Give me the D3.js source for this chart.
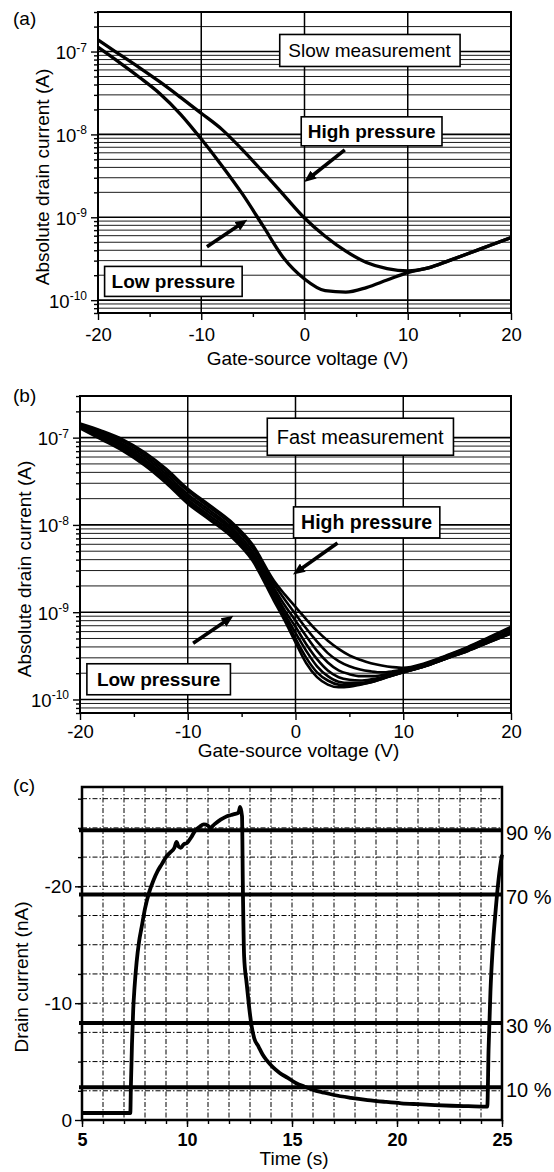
<!DOCTYPE html>
<html>
<head>
<meta charset="utf-8">
<script src="https://cdn.jsdelivr.net/npm/d3@7"></script>
<style>
  body { margin: 0; background: #fff; }
  svg { display: block; }
</style>
</head>
<body>
<svg id="fig" width="554" height="1172"></svg>
<script>
// (a) slow measurement: |Id| (A) against Vgs (V)
var voltsA = [-20, -18, -16, -14, -12, -10, -8, -6, -4, -2, 0, 2, 4, 6, 8, 10, 12, 14, 16, 18, 20];
var slowHigh = [1.38e-7, 9.4e-8, 6.4e-8, 4.3e-8, 2.8e-8, 1.8e-8, 1.15e-8, 6.5e-9, 3.5e-9, 1.85e-9, 9.8e-10,
                5.9e-10, 3.9e-10, 2.85e-10, 2.4e-10, 2.25e-10, 2.45e-10, 3.0e-10, 3.7e-10, 4.6e-10, 5.7e-10];
var slowLow  = [1.13e-7, 7.5e-8, 4.9e-8, 3.1e-8, 1.75e-8, 8.8e-9, 4.2e-9, 1.9e-9, 7.8e-10, 3.2e-10, 1.8e-10,
                1.3e-10, 1.25e-10, 1.42e-10, 1.75e-10, 2.15e-10, 2.45e-10, 3.0e-10, 3.7e-10, 4.6e-10, 5.7e-10];

// (b) fast measurement: seven sweeps, high pressure first
var voltsB = [-20, -18, -16, -14, -12, -10, -8, -6, -4, -2, -1, 0, 1, 2, 3, 4, 5, 6, 7, 8, 9, 10, 12, 14, 16, 18, 20];
var fast1 = [1.45e-7, 1.2e-7, 9.5e-8, 6.8e-8, 4.4e-8, 2.6e-8, 1.7e-8, 1.1e-8, 6.0e-9, 2.3e-9, 1.6e-9, 1.15e-9, 8.3e-10, 6.1e-10,
             4.7e-10, 3.8e-10, 3.2e-10, 2.85e-10, 2.6e-10, 2.45e-10, 2.35e-10, 2.3e-10, 2.6e-10, 3.2e-10, 4.0e-10, 5.2e-10, 6.8e-10];
var fast2 = [1.42e-7, 1.16e-7, 9.0e-8, 6.4e-8, 4.1e-8, 2.45e-8, 1.6e-8, 1.03e-8, 5.5e-9, 2.1e-9, 1.4e-9, 9.5e-10, 6.5e-10, 4.6e-10,
             3.4e-10, 2.75e-10, 2.4e-10, 2.2e-10, 2.1e-10, 2.05e-10, 2.1e-10, 2.2e-10, 2.55e-10, 3.15e-10, 3.95e-10, 5.1e-10, 6.6e-10];
var fast3 = [1.39e-7, 1.11e-7, 8.5e-8, 6.0e-8, 3.8e-8, 2.25e-8, 1.48e-8, 9.5e-9, 5.0e-9, 1.9e-9, 1.2e-9, 8.0e-10, 5.3e-10, 3.6e-10,
             2.65e-10, 2.15e-10, 1.95e-10, 1.85e-10, 1.85e-10, 1.9e-10, 2.0e-10, 2.15e-10, 2.5e-10, 3.05e-10, 3.8e-10, 4.8e-10, 6.2e-10];
var fast4 = [1.36e-7, 1.07e-7, 8.1e-8, 5.6e-8, 3.55e-8, 2.1e-8, 1.38e-8, 8.9e-9, 4.6e-9, 1.75e-9, 1.05e-9, 6.8e-10, 4.3e-10, 2.9e-10,
             2.15e-10, 1.8e-10, 1.68e-10, 1.65e-10, 1.7e-10, 1.8e-10, 1.95e-10, 2.1e-10, 2.45e-10, 3.0e-10, 3.7e-10, 4.7e-10, 6.0e-10];
var fast5 = [1.33e-7, 1.03e-7, 7.7e-8, 5.3e-8, 3.35e-8, 1.95e-8, 1.28e-8, 8.3e-9, 4.3e-9, 1.6e-9, 9.5e-10, 5.8e-10, 3.6e-10, 2.4e-10,
             1.85e-10, 1.6e-10, 1.55e-10, 1.55e-10, 1.62e-10, 1.75e-10, 1.9e-10, 2.05e-10, 2.4e-10, 2.95e-10, 3.65e-10, 4.6e-10, 5.8e-10];
var fast6 = [1.3e-7, 9.9e-8, 7.3e-8, 5.0e-8, 3.15e-8, 1.85e-8, 1.2e-8, 7.8e-9, 4.1e-9, 1.45e-9, 8.8e-10, 5.0e-10, 3.0e-10, 2.05e-10,
             1.65e-10, 1.48e-10, 1.45e-10, 1.5e-10, 1.58e-10, 1.72e-10, 1.88e-10, 2.05e-10, 2.4e-10, 2.95e-10, 3.6e-10, 4.55e-10, 5.7e-10];
var fast7 = [1.28e-7, 9.5e-8, 7.0e-8, 4.8e-8, 3.0e-8, 1.75e-8, 1.15e-8, 7.4e-9, 3.9e-9, 1.35e-9, 8.0e-10, 4.5e-10, 2.6e-10, 1.8e-10,
             1.48e-10, 1.38e-10, 1.4e-10, 1.48e-10, 1.58e-10, 1.72e-10, 1.88e-10, 2.05e-10, 2.4e-10, 2.95e-10, 3.6e-10, 4.55e-10, 5.7e-10];

// (c) drain current (nA) against time (s)
var timeC = [5, 7.3, 7.33, 7.38, 7.44, 7.5, 7.6, 7.72, 7.84, 8.0, 8.2, 8.4, 8.6, 8.8, 9.0, 9.2, 9.4, 9.5, 9.6, 9.7,
             9.85, 10.0, 10.2, 10.4, 10.6, 10.8, 11.0, 11.1, 11.3, 11.6, 11.9, 12.1, 12.3, 12.45, 12.53, 12.62, 12.66,
             12.72, 12.84, 12.95, 13.08, 13.2, 13.4, 13.6, 13.8, 14.1, 14.4, 14.8, 15.2, 15.6, 16.0, 16.5, 17.0,
             17.8, 18.6, 19.4, 20.2, 21.0, 21.8, 22.6, 23.4, 24.27, 24.3, 24.36, 24.45, 24.55, 24.7, 24.85, 25];
var currentC = [-0.6, -0.6, -3, -6.5, -9.5, -11.3, -13.5, -15.3, -16.5, -18.1, -19.5, -20.5, -21.3, -21.9, -22.5, -22.9,
                -23.3, -23.8, -23.4, -23.3, -23.6, -23.7, -24.2, -24.8, -25.1, -25.3, -25.2, -25.0, -25.3, -25.7,
                -26.0, -26.1, -26.2, -26.3, -26.8, -26.0, -20, -14.0, -11.7, -9.8, -8.0, -7.0, -6.3, -5.6, -5.1,
                -4.5, -4.05, -3.6, -3.15, -2.85, -2.58, -2.35, -2.14, -1.9, -1.71, -1.56, -1.43, -1.35, -1.28,
                -1.22, -1.18, -1.14, -1.14, -6, -11, -14.5, -18, -20.8, -22.7];
var levelValues = [-24.8, -19.3, -8.3, -2.8];
var levelLabels = ["90 %", "70 %", "30 %", "10 %"];

var voltTicks = [-20, -10, 0, 10, 20];
var voltMinor = [-15, -5, 5, 15];
var decades = [1e-7, 1e-8, 1e-9, 1e-10];
var decadeLabels = ["-7", "-8", "-9", "-10"];
var timeTicks = [5, 10, 15, 20, 25];
var currentTicks = [-20, -10, 0];

var svg = d3.select("#fig"),
    fontFamily = "'Liberation Sans', Arial, Helvetica, sans-serif";

svg.append("defs").append("marker")
    .attr("id", "head")
    .attr("markerUnits", "userSpaceOnUse")
    .attr("viewBox", "0 0 12 10")
    .attr("refX", 5).attr("refY", 5)
    .attr("markerWidth", 12).attr("markerHeight", 10)
    .attr("orient", "auto")
  .append("path")
    .attr("d", "M0,0L12,5L0,10Z")
    .attr("fill", "#000");

function isDecade(d) {
  var e = Math.log10(d);
  return Math.abs(e - Math.round(e)) < 1e-9;
}

function styleAxis(sel, size) {
  sel.attr("font-size", size).attr("font-family", fontFamily);
  sel.select(".domain").remove();
  sel.selectAll(".tick line").attr("stroke-width", 1.4);
  sel.selectAll(".tick text").attr("fill", "#000");
  return sel;
}

function addText(g, x, y, txt, size, opts) {
  opts = opts || {};
  var t = g.append("text")
    .attr("x", x).attr("y", y)
    .attr("font-family", fontFamily)
    .attr("font-size", size)
    .attr("font-weight", opts.bold ? "bold" : "normal")
    .attr("text-anchor", opts.anchor || "start")
    .text(txt);
  if (opts.rotate) t.attr("transform", "rotate(-90," + x + "," + y + ")");
  return t;
}

function logPanel(p) {
  var x = d3.scaleLinear().domain([-20, 20]).range([p.left, p.right]),
      y = d3.scaleLog().domain([7e-11, 3e-7]).range([p.bottom, p.top]);

  var g = svg.append("g");

  // horizontal grid on every log tick, vertical grid only at the labelled volts
  g.selectAll(".hgrid")
    .data(y.ticks())
    .enter().append("line")
      .attr("class", "hgrid")
      .attr("x1", p.left).attr("x2", p.right)
      .attr("y1", function(d) { return y(d); })
      .attr("y2", function(d) { return y(d); })
      .attr("stroke", "#000")
      .attr("stroke-width", function(d) { return isDecade(d) ? 1.6 : 0.9; });

  g.selectAll(".vgrid")
    .data(voltTicks.slice(1, -1))
    .enter().append("line")
      .attr("class", "vgrid")
      .attr("x1", function(d) { return x(d); })
      .attr("x2", function(d) { return x(d); })
      .attr("y1", p.top).attr("y2", p.bottom)
      .attr("stroke", "#000")
      .attr("stroke-width", 1.5);

  var line = d3.line()
    .x(function(d, i) { return x(p.volts[i]); })
    .y(function(d) { return y(d); })
    .curve(d3.curveMonotoneX);

  g.selectAll(".curve")
    .data(p.curves)
    .enter().append("path")
      .attr("class", "curve")
      .attr("d", line)
      .attr("fill", "none")
      .attr("stroke", "#000")
      .attr("stroke-width", p.curveWidth)
      .attr("stroke-linejoin", "round");

  g.append("rect")
    .attr("x", p.left).attr("y", p.top)
    .attr("width", p.right - p.left).attr("height", p.bottom - p.top)
    .attr("fill", "none").attr("stroke", "#000").attr("stroke-width", 2);

  styleAxis(g.append("g")
    .attr("transform", "translate(0," + p.bottom + ")")
    .call(d3.axisBottom(x).tickValues(voltTicks).tickSize(7).tickSizeOuter(0)
      .tickPadding(p.xPad).tickFormat(function(d) { return String(d); })), 18.5);

  styleAxis(g.append("g")
    .attr("transform", "translate(0," + p.bottom + ")")
    .call(d3.axisBottom(x).tickValues(voltMinor).tickSize(4).tickSizeOuter(0).tickFormat("")), 10);

  styleAxis(g.append("g")
    .attr("transform", "translate(" + p.left + ",0)")
    .call(d3.axisLeft(y).tickValues(y.ticks().filter(function(d) { return !isDecade(d); }))
      .tickSize(4).tickSizeOuter(0).tickFormat("")), 10);

  styleAxis(g.append("g")
    .attr("transform", "translate(" + p.left + ",0)")
    .call(d3.axisLeft(y).tickValues(decades).tickSize(7).tickSizeOuter(0).tickFormat("")), 10);

  var lab = g.selectAll(".ylab")
    .data(decades)
    .enter().append("text")
      .attr("class", "ylab")
      .attr("x", p.left - 11)
      .attr("y", function(d) { return y(d) + 7.5; })
      .attr("text-anchor", "end")
      .attr("font-family", fontFamily)
      .attr("font-size", 18.5);
  lab.append("tspan").text("10");
  lab.append("tspan")
    .attr("font-size", 12)
    .attr("dy", -7.5)
    .text(function(d, i) { return decadeLabels[i]; });

  // boxed notes, placed in data coordinates
  p.notes.forEach(function(n) {
    var t = addText(g, x(n.v), y(n.i), n.text, n.size, { bold: n.bold, anchor: "middle" })
      .attr("dy", "0.36em");
    var b = t.node().getBBox();
    g.insert("rect", function() { return t.node(); })
      .attr("x", b.x - n.padX).attr("y", b.y - n.padY)
      .attr("width", b.width + 2 * n.padX).attr("height", b.height + 2 * n.padY)
      .attr("fill", "#fff").attr("stroke", "#000").attr("stroke-width", 1.6);
  });

  p.arrows.forEach(function(a) {
    g.append("line")
      .attr("x1", x(a[0])).attr("y1", y(a[1]))
      .attr("x2", x(a[2])).attr("y2", y(a[3]))
      .attr("stroke", "#000").attr("stroke-width", 3.6)
      .attr("marker-end", "url(#head)");
  });

  addText(g, 13, p.labelY, p.label, 19);
  addText(g, p.yTitleX, p.yTitleY, "Absolute drain current (A)", 19, { anchor: "middle", rotate: true });
  addText(g, (p.left + p.right) / 2 + 3, p.xTitleY, "Gate-source voltage (V)", 19, { anchor: "middle" });
}

logPanel({
  left: 98, right: 511, top: 12, bottom: 313,
  volts: voltsA, curves: [slowHigh, slowLow], curveWidth: 3.3,
  xPad: 7.5, label: "(a)", labelY: 25,
  yTitleX: 49, yTitleY: 177, xTitleY: 365,
  notes: [
    { text: "Slow measurement", v: 6.3, i: 1.04e-7, size: 19, bold: false, padX: 8.5, padY: 5.5 },
    { text: "High pressure", v: 6.5, i: 1.1e-8, size: 19, bold: true, padX: 6.5, padY: 4 },
    { text: "Low pressure", v: -12.7, i: 1.7e-10, size: 19, bold: true, padX: 7, padY: 4.5 }
  ],
  arrows: [[3.9, 6.5e-9, 0.5, 3.0e-9], [-9.45, 4.4e-10, -6.1, 8.4e-10]]
});

logPanel({
  left: 80, right: 511, top: 396, bottom: 713,
  volts: voltsB, curves: [fast1, fast2, fast3, fast4, fast5, fast6, fast7], curveWidth: 2.6,
  xPad: 5, label: "(b)", labelY: 402,
  yTitleX: 31, yTitleY: 569, xTitleY: 757,
  notes: [
    { text: "Fast measurement", v: 6.0, i: 1.03e-7, size: 20, bold: false, padX: 9.5, padY: 7.5 },
    { text: "High pressure", v: 6.6, i: 1.07e-8, size: 19.5, bold: true, padX: 7.5, padY: 4.5 },
    { text: "Low pressure", v: -12.7, i: 1.72e-10, size: 19, bold: true, padX: 10, padY: 5 }
  ],
  arrows: [[3.9, 6.2e-9, 0.3, 3.0e-9], [-9.5, 4.4e-10, -6.3, 8.2e-10]]
});

// (c)
var xc = d3.scaleLinear().domain([5, 25]).range([82, 502]),
    yc = d3.scaleLinear().domain([0, -28.5]).range([1120, 787]);

var gc = svg.append("g");

gc.selectAll(".vgrid")
  .data(xc.ticks(20).slice(1, -1))
  .enter().append("line")
    .attr("x1", function(d) { return xc(d); })
    .attr("x2", function(d) { return xc(d); })
    .attr("y1", yc.range()[1]).attr("y2", yc.range()[0])
    .attr("stroke", "#000").attr("stroke-width", 1)
    .attr("stroke-dasharray", "5,2,1.5,2");

gc.selectAll(".hgrid")
  .data(d3.range(-2.5, -28.5, -2.5))
  .enter().append("line")
    .attr("x1", xc.range()[0]).attr("x2", xc.range()[1])
    .attr("y1", function(d) { return yc(d); })
    .attr("y2", function(d) { return yc(d); })
    .attr("stroke", "#000").attr("stroke-width", 1)
    .attr("stroke-dasharray", "5,2,1.5,2");

gc.selectAll(".level")
  .data(levelValues)
  .enter().append("line")
    .attr("x1", xc.range()[0] - 3).attr("x2", xc.range()[1])
    .attr("y1", function(d) { return yc(d); })
    .attr("y2", function(d) { return yc(d); })
    .attr("stroke", "#000").attr("stroke-width", 4);

gc.selectAll(".levelLabel")
  .data(levelValues)
  .enter().append("text")
    .attr("x", xc.range()[1] + 4)
    .attr("y", function(d) { return yc(d) + 10; })
    .attr("font-family", fontFamily)
    .attr("font-size", 20)
    .text(function(d, i) { return levelLabels[i]; });

gc.append("path")
  .datum(currentC)
  .attr("d", d3.line()
    .x(function(d, i) { return xc(timeC[i]); })
    .y(function(d) { return yc(d); })
    .curve(d3.curveMonotoneX))
  .attr("fill", "none")
  .attr("stroke", "#000")
  .attr("stroke-width", 3.8)
  .attr("stroke-linejoin", "round");

gc.append("rect")
  .attr("x", 82).attr("y", 787)
  .attr("width", 420).attr("height", 333)
  .attr("fill", "none").attr("stroke", "#000").attr("stroke-width", 2.5);

styleAxis(gc.append("g")
  .attr("transform", "translate(0,1120)")
  .call(d3.axisBottom(xc).tickValues(timeTicks).tickSize(7).tickSizeOuter(0).tickPadding(6)
    .tickFormat(function(d) { return String(d); })), 18)
  .attr("font-weight", "bold");

styleAxis(gc.append("g")
  .attr("transform", "translate(0,1120)")
  .call(d3.axisBottom(xc).ticks(20).tickSize(4).tickSizeOuter(0).tickFormat("")), 10);

styleAxis(gc.append("g")
  .attr("transform", "translate(82,0)")
  .call(d3.axisLeft(yc).tickValues(currentTicks).tickSize(7).tickSizeOuter(0).tickPadding(3)
    .tickFormat(function(d) { return String(d); })), 19);

styleAxis(gc.append("g")
  .attr("transform", "translate(82,0)")
  .call(d3.axisLeft(yc).tickValues(d3.range(-2.5, -28.5, -2.5)).tickSize(4).tickSizeOuter(0).tickFormat("")), 10);

addText(gc, 13, 792, "(c)", 19);
addText(gc, 28, 977, "Drain current (nA)", 19, { anchor: "middle", rotate: true });
addText(gc, 294, 1165, "Time (s)", 19, { anchor: "middle" });
</script>
</body>
</html>
